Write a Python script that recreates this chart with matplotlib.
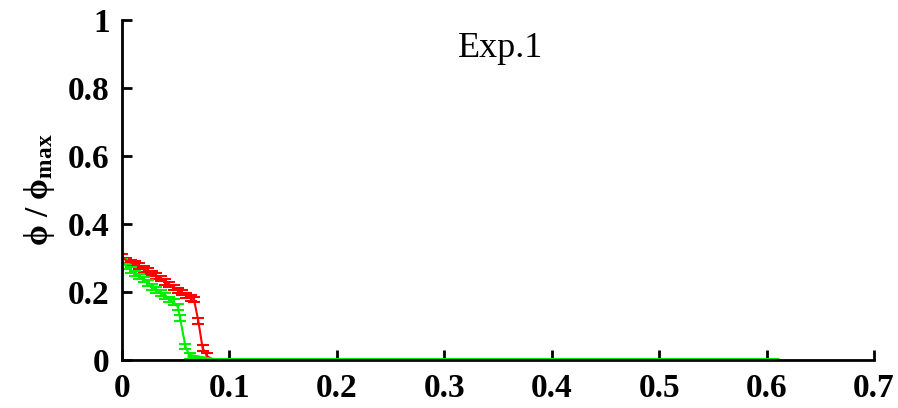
import matplotlib
matplotlib.use("Agg")
import matplotlib.pyplot as plt

# Data
red_x = [0.000, 0.004, 0.008, 0.012, 0.016, 0.020, 0.024, 0.028, 0.032, 0.036,
         0.040, 0.044, 0.048, 0.052, 0.056, 0.060, 0.064, 0.067, 0.071, 0.075, 0.079]
red_y = [0.305, 0.292, 0.287, 0.282, 0.276, 0.268, 0.262, 0.255, 0.247, 0.240,
         0.230, 0.222, 0.213, 0.205, 0.198, 0.190, 0.183, 0.178, 0.115, 0.035, 0.012]
red_err = [0.008] * len(red_x)

green_x = [0.000, 0.004, 0.008, 0.012, 0.016, 0.020, 0.024, 0.028, 0.032, 0.036,
           0.040, 0.044, 0.048, 0.052, 0.054, 0.059, 0.063]
green_y = [0.290, 0.275, 0.265, 0.255, 0.245, 0.236, 0.226, 0.215, 0.206, 0.197,
           0.188, 0.178, 0.170, 0.156, 0.124, 0.040, 0.012]
green_err = [0.008] * len(green_x)

tail_x = [0.085, 0.10, 0.15, 0.20, 0.25, 0.30, 0.35, 0.40, 0.45, 0.50, 0.55, 0.61]
tail_y = [0.0] * len(tail_x)

xticks = [0, 0.1, 0.2, 0.3, 0.4, 0.5, 0.6, 0.7]
xticklabels = ["0", "0.1", "0.2", "0.3", "0.4", "0.5", "0.6", "0.7"]
yticks = [0, 0.2, 0.4, 0.6, 0.8, 1]
yticklabels = ["0", "0.2", "0.4", "0.6", "0.8", "1"]

plt.rcParams['mathtext.fontset'] = 'custom'
plt.rcParams['mathtext.rm'] = 'Liberation Serif:bold'
plt.rcParams['mathtext.bf'] = 'Liberation Serif:bold'
plt.rcParams['mathtext.it'] = 'Liberation Serif:bold'

fig = plt.figure(figsize=(8.98, 4.08), dpi=100)
ax = fig.add_axes([0.1359, 0.1176, 0.8374, 0.8334])

red = '#ff0000'
green = '#00ee00'

ax.errorbar(red_x, red_y, yerr=red_err, color=red, lw=1.5, capsize=4.5, capthick=1.5,
            elinewidth=1.5)
ax.plot([red_x[-1]] + tail_x, [red_y[-1]] + tail_y, color=red, lw=1.5)
ax.errorbar(green_x, green_y, yerr=green_err, color=green, lw=1.5, capsize=4.5,
            capthick=1.5, elinewidth=1.5)
ax.plot([green_x[-1]] + tail_x, [green_y[-1]] + tail_y, color=green, lw=3)

ax.set_xlim(0, 0.7)
ax.set_ylim(0, 1)
ax.set_xticks(xticks)
ax.set_xticklabels(xticklabels)
ax.set_yticks(yticks)
ax.set_yticklabels(yticklabels)

for s in ['top', 'right']:
    ax.spines[s].set_visible(False)
for s in ['left', 'bottom']:
    ax.spines[s].set_linewidth(2)
    ax.spines[s].set_color('black')

ax.tick_params(direction='in', length=7, width=2, pad=9)
for lab in ax.get_xticklabels() + ax.get_yticklabels():
    lab.set_fontfamily('Liberation Serif')
    lab.set_fontweight('bold')
    lab.set_fontsize(24)

ax.set_ylabel(r'$\mathbf{\phi}$ / $\mathbf{\phi_{max}}$', fontsize=24,
              fontfamily='Liberation Serif', fontweight='bold', labelpad=8)
ax.text(0.503, 0.915, 'Exp.1', transform=ax.transAxes, ha='center', va='center',
        fontsize=26, fontfamily='Liberation Serif')

fig.savefig('out.png', dpi=100)
